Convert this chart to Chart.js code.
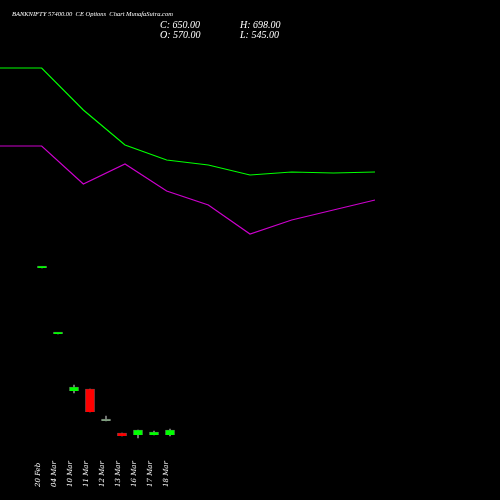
<!DOCTYPE html>
<html><head><style>html,body{margin:0;background:#000}#w{width:500px;height:500px}</style>
<script src="https://cdn.jsdelivr.net/npm/chart.js@4"></script></head>
<body><div id="w"><canvas id="c"></canvas></div>
<script>
const dates=["20 Feb","04 Mar","10 Mar","11 Mar","12 Mar","13 Mar","16 Mar","17 Mar","18 Mar"];
const opens=[232,166,109,111,79,67,65,65,65];
const closes=[232,166,113,88,79,64,70,68,70];
const highs=[232,166,115,111,84,67,70,69,71];
const lows=[232,166,107,88,79,64,62,65,64];
const greenLine=[432,432,390,355,340,335,325,328,327,328];
const magentaLine=[354,354,316,336,309,295,266,280,290,300];
const candles=dates.map((d,i)=>({x:i,y:[opens[i],closes[i]]}));
const wicks=dates.map((d,i)=>({x:i,y:[lows[i],highs[i]]}));
const colors=dates.map((d,i)=>closes[i]<opens[i]?'#ff0000':(closes[i]===opens[i]&&i>3?'#7f9f7f':'#00ff00'));
const labelsPlugin={id:'lbl',afterDraw(ch){const c=ch.ctx,xs=ch.scales.x;c.save();c.fillStyle='#fff';c.font='italic 7px "DejaVu Serif"';
dates.forEach((d,i)=>{c.save();c.translate(xs.getPixelForValue(i)-2,487);c.rotate(-Math.PI/2);c.textAlign='left';c.fillText(d,0,0);c.restore();});
c.font='italic 6.5px "Liberation Serif"';c.fillText('BANKNIFTY 57400.00  CE Options  Chart MunafaSutra.com',12,16);
c.font='italic 10px "Liberation Serif"';c.fillText('C: 650.00',160,28);c.fillText('O: 570.00',160,38);c.fillText('H: 698.00',240,28);c.fillText('L: 545.00',240,38);c.restore();}};
new Chart(document.getElementById('c'),{data:{datasets:[
{type:'bar',data:wicks,backgroundColor:'#888',barThickness:1,grouped:false,xAxisID:'x',order:3},
{type:'bar',data:candles,backgroundColor:colors,borderColor:'#666',borderWidth:0.5,barThickness:9,minBarLength:2,grouped:false,xAxisID:'x',order:2},
{type:'line',data:greenLine.map((v,i)=>({x:i,y:v})),borderColor:'#00ff00',borderWidth:1.2,pointRadius:0,xAxisID:'x2',tension:0,order:1},
{type:'line',data:magentaLine.map((v,i)=>({x:i,y:v})),borderColor:'#cc00cc',borderWidth:1.2,pointRadius:0,xAxisID:'x2',tension:0,order:1}]},
options:{responsive:true,maintainAspectRatio:false,animation:false,layout:{padding:0},plugins:{legend:{display:false},tooltip:{enabled:false}},
scales:{x:{type:'linear',min:-2.625,max:28.625,offset:false,display:false},x2:{type:'linear',min:0,max:12,offset:false,display:false},y:{min:0,max:500,display:false}}},
plugins:[labelsPlugin]});
</script></body></html>
